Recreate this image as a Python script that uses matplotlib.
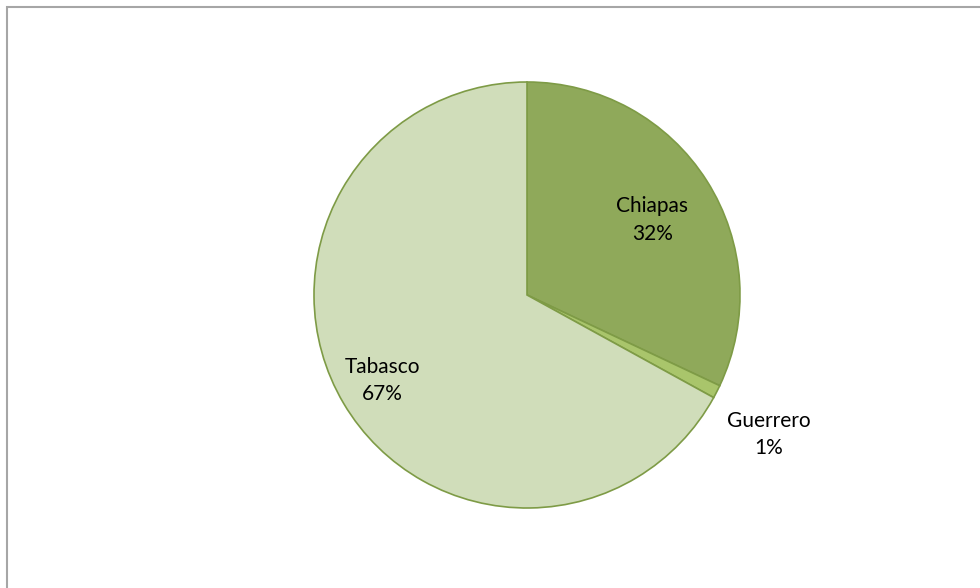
import numpy as np
import matplotlib.pyplot as plt
from matplotlib.patches import Rectangle

states = ['Chiapas', 'Guerrero', 'Tabasco']
shares = [32, 1, 67]
colors = ['#8fa95a', '#a9c56b', '#d0ddba']
# label distance from centre (in radii) and small angle tweak (deg)
label_radius = [0.685, 1.31, 0.79]
label_shift = [-1.5, -3, 0]

plt.rcParams['font.family'] = ['Lato', 'DejaVu Sans']

fig = plt.figure(figsize=(9.8, 5.88), dpi=100)
fig.patch.set_facecolor('white')

# chart border, open at the right/bottom edges
fig.patches.append(Rectangle((6.5 / 980, -0.05), 1.1, (588 - 6.5) / 588 + 0.05,
                             transform=fig.transFigure, fill=False,
                             edgecolor='#a6a6a6', linewidth=1.5))

ax = fig.add_axes([(527 - 213) / 980, (588 - 508) / 588, 426 / 980, 426 / 588])
wedges, _ = ax.pie(shares, colors=colors, startangle=90, counterclock=False,
                   radius=1, wedgeprops=dict(edgecolor='#7e9b46', linewidth=1.2))
ax.set_xlim(-1, 1)
ax.set_ylim(-1, 1)
ax.set_aspect('equal')
ax.axis('off')

for w, name, pct, r, d in zip(wedges, states, shares, label_radius, label_shift):
    mid = np.deg2rad((w.theta1 + w.theta2) / 2 + d)
    ax.text(r * np.cos(mid), r * np.sin(mid), f'{name}\n{pct}%',
            ha='center', va='center', fontsize=15, linespacing=1.45,
            color='black')

fig.savefig('out.png', dpi=100)
